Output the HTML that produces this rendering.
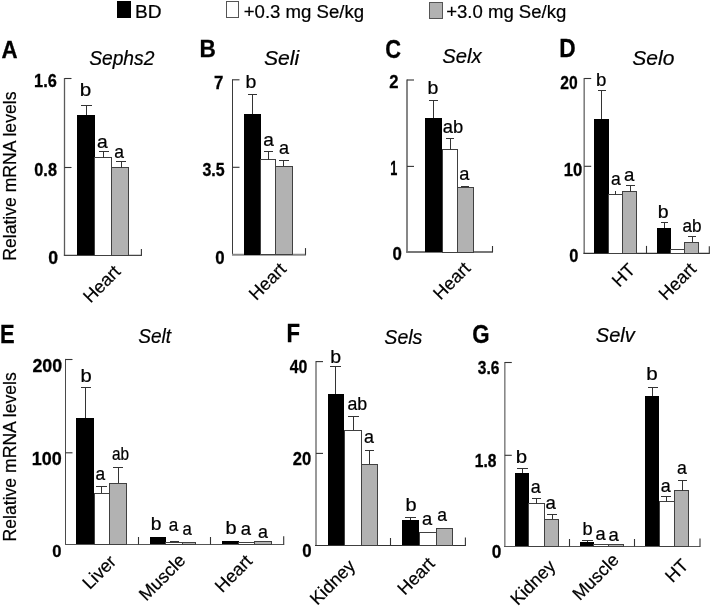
<!DOCTYPE html>
<html><head><meta charset="utf-8"><style>
html,body{margin:0;padding:0;background:#fff;}
svg{display:block;will-change:transform;}
rect,line,path{shape-rendering:crispEdges;}
text{font-family:"Liberation Sans", sans-serif;stroke:#000;stroke-width:0.22px;}
text[font-weight=bold]{stroke-width:0.3px;}
</style></head><body>
<svg width="711" height="608" viewBox="0 0 711 608">
<rect width="711" height="608" fill="#fff"/>
<rect x="117" y="1.3" width="13.8" height="16.4" fill="#000"/>
<text x="135.03" y="17.90" font-size="19.00" font-weight="normal" font-style="normal" textLength="26.59" lengthAdjust="spacingAndGlyphs">BD</text>
<rect x="226.4" y="1.7" width="12" height="15.7" fill="#fff" stroke="#555" stroke-width="1"/>
<text x="243.69" y="17.70" font-size="18.70" font-weight="normal" font-style="normal" textLength="120.41" lengthAdjust="spacingAndGlyphs">+0.3 mg Se/kg</text>
<rect x="429.7" y="2.6" width="12.5" height="15.6" fill="#b2b2b2" stroke="#555" stroke-width="1"/>
<text x="446.19" y="17.70" font-size="18.70" font-weight="normal" font-style="normal" textLength="120.10" lengthAdjust="spacingAndGlyphs">+3.0 mg Se/kg</text>
<text x="1.50" y="58.00" font-size="24.71" font-weight="bold" font-style="normal" textLength="16.09" lengthAdjust="spacingAndGlyphs" fill="#000">A</text>
<text x="89.16" y="65.30" font-size="20.00" font-weight="normal" font-style="italic" textLength="65.23" lengthAdjust="spacingAndGlyphs">Sephs2</text>
<line x1="64.5" y1="78.1" x2="64.5" y2="255.4" stroke="#5a5a5a" stroke-width="1.3" style="shape-rendering:auto"/>
<line x1="63.85" y1="255.4" x2="141.9" y2="255.4" stroke="#444" stroke-width="1.2" style="shape-rendering:auto"/>
<line x1="64.5" y1="78.5" x2="71.5" y2="78.5" stroke="#333" stroke-width="1.1" style="shape-rendering:auto"/>
<line x1="64.5" y1="167.5" x2="71.5" y2="167.5" stroke="#333" stroke-width="1.1" style="shape-rendering:auto"/>
<line x1="141.4" y1="255.4" x2="141.4" y2="248.9" stroke="#333" stroke-width="1.1" style="shape-rendering:auto"/>
<text x="34.07" y="86.72" font-size="18.36" font-weight="bold" font-style="normal" textLength="22.72" lengthAdjust="spacingAndGlyphs" fill="#000">1.6</text>
<text x="34.36" y="175.52" font-size="18.36" font-weight="bold" font-style="normal" textLength="22.54" lengthAdjust="spacingAndGlyphs" fill="#000">0.8</text>
<text x="48.20" y="263.51" font-size="19.21" font-weight="bold" font-style="normal" textLength="9.82" lengthAdjust="spacingAndGlyphs" fill="#000">0</text>
<rect x="77.3" y="115.4" width="17.60" height="139.60" fill="#000"/>
<rect x="94.90" y="157.50" width="16.90" height="97.50" fill="#fff" stroke="#404040" stroke-width="1"/>
<rect x="111.80" y="167.50" width="16.90" height="87.50" fill="#b2b2b2" stroke="#404040" stroke-width="1"/>
<path d="M86.35 115.4 V105.4 M81.1 105.4 H91.6" fill="none" stroke="#333" stroke-width="1"/>
<path d="M103.70 157.5 V151.4 M98.6 151.4 H108.8" fill="none" stroke="#333" stroke-width="1"/>
<path d="M121.00 167.5 V161.6 M116 161.6 H126" fill="none" stroke="#333" stroke-width="1"/>
<text x="79.77" y="96.30" font-size="18.20" font-weight="normal" font-style="normal" textLength="11.50" lengthAdjust="spacingAndGlyphs">b</text>
<text x="96.98" y="147.80" font-size="18.20" font-weight="normal" font-style="normal" textLength="10.72" lengthAdjust="spacingAndGlyphs">a</text>
<text x="114.26" y="158.00" font-size="18.20" font-weight="normal" font-style="normal" textLength="9.74" lengthAdjust="spacingAndGlyphs">a</text>
<text x="90.46" y="303.84" font-size="18.0" transform="rotate(-45 90.46 303.84)">Heart</text>
<text x="15.60" y="260.74" font-size="17.5" textLength="169.17" lengthAdjust="spacingAndGlyphs" transform="rotate(-90 15.60 260.74)">Relative mRNA levels</text>
<text x="199.59" y="57.20" font-size="24.27" font-weight="bold" font-style="normal" textLength="16.34" lengthAdjust="spacingAndGlyphs" fill="#000">B</text>
<text x="263.90" y="64.50" font-size="20.50" font-weight="normal" font-style="italic" textLength="35.32" lengthAdjust="spacingAndGlyphs">Seli</text>
<line x1="232.5" y1="79.3" x2="232.5" y2="254.8" stroke="#3a3a3a" stroke-width="1.0" style="shape-rendering:auto"/>
<line x1="232.0" y1="254.8" x2="306.0" y2="254.8" stroke="#888" stroke-width="2.0" style="shape-rendering:auto"/>
<line x1="232.5" y1="79.8" x2="239.5" y2="79.8" stroke="#333" stroke-width="1.1" style="shape-rendering:auto"/>
<line x1="232.5" y1="167.3" x2="239.5" y2="167.3" stroke="#333" stroke-width="1.1" style="shape-rendering:auto"/>
<line x1="305.5" y1="254.8" x2="305.5" y2="248.1" stroke="#333" stroke-width="1.1" style="shape-rendering:auto"/>
<text x="213.98" y="88.60" font-size="19.04" font-weight="bold" font-style="normal" textLength="9.36" lengthAdjust="spacingAndGlyphs" fill="#000">7</text>
<text x="202.43" y="176.09" font-size="18.89" font-weight="bold" font-style="normal" textLength="22.21" lengthAdjust="spacingAndGlyphs" fill="#000">3.5</text>
<text x="215.33" y="263.51" font-size="19.07" font-weight="bold" font-style="normal" textLength="9.36" lengthAdjust="spacingAndGlyphs" fill="#000">0</text>
<rect x="244" y="114.3" width="16.80" height="140.20" fill="#000"/>
<rect x="260.80" y="159.90" width="14.60" height="94.60" fill="#fff" stroke="#404040" stroke-width="1"/>
<rect x="275.40" y="166.00" width="17.10" height="88.50" fill="#b2b2b2" stroke="#404040" stroke-width="1"/>
<path d="M252.10 114.3 V94.3 M247.6 94.3 H256.6" fill="none" stroke="#333" stroke-width="1"/>
<path d="M268.70 159.9 V151.4 M264 151.4 H273.4" fill="none" stroke="#333" stroke-width="1"/>
<path d="M283.95 166 V160 M279.3 160 H288.6" fill="none" stroke="#333" stroke-width="1"/>
<text x="245.44" y="88.30" font-size="18.20" font-weight="normal" font-style="normal" textLength="10.88" lengthAdjust="spacingAndGlyphs">b</text>
<text x="263.19" y="146.00" font-size="18.20" font-weight="normal" font-style="normal" textLength="10.61" lengthAdjust="spacingAndGlyphs">a</text>
<text x="278.93" y="153.60" font-size="18.20" font-weight="normal" font-style="normal" textLength="10.07" lengthAdjust="spacingAndGlyphs">a</text>
<text x="256.16" y="301.24" font-size="18.0" transform="rotate(-45 256.16 301.24)">Heart</text>
<text x="385.30" y="57.96" font-size="25.00" font-weight="bold" font-style="normal" textLength="15.80" lengthAdjust="spacingAndGlyphs" fill="#000">C</text>
<text x="442.33" y="62.80" font-size="20.00" font-weight="normal" font-style="italic" textLength="39.28" lengthAdjust="spacingAndGlyphs">Selx</text>
<line x1="407.0" y1="79.5" x2="407.0" y2="252.0" stroke="#7a7a7a" stroke-width="1.8" style="shape-rendering:auto"/>
<line x1="406.1" y1="252.0" x2="493.0" y2="252.0" stroke="#777" stroke-width="2.0" style="shape-rendering:auto"/>
<line x1="407.0" y1="80" x2="414.0" y2="80" stroke="#333" stroke-width="1.1" style="shape-rendering:auto"/>
<line x1="407.0" y1="166.4" x2="414.0" y2="166.4" stroke="#333" stroke-width="1.1" style="shape-rendering:auto"/>
<line x1="492.5" y1="252.0" x2="492.5" y2="246" stroke="#333" stroke-width="1.1" style="shape-rendering:auto"/>
<text x="389.32" y="87.90" font-size="18.47" font-weight="bold" font-style="normal" textLength="9.24" lengthAdjust="spacingAndGlyphs" fill="#000">2</text>
<text x="390.20" y="174.80" font-size="19.33" font-weight="bold" font-style="normal" textLength="7.05" lengthAdjust="spacingAndGlyphs" fill="#000">1</text>
<text x="392.53" y="260.11" font-size="19.07" font-weight="bold" font-style="normal" textLength="9.36" lengthAdjust="spacingAndGlyphs" fill="#000">0</text>
<rect x="425.3" y="117.8" width="16.70" height="134.30" fill="#000"/>
<rect x="442.00" y="149.50" width="15.20" height="102.60" fill="#fff" stroke="#404040" stroke-width="1"/>
<rect x="457.20" y="187.30" width="16.30" height="64.80" fill="#b2b2b2" stroke="#404040" stroke-width="1"/>
<path d="M433.40 117.8 V100.3 M429 100.3 H437.8" fill="none" stroke="#333" stroke-width="1"/>
<path d="M450.00 149.5 V138.8 M446 138.8 H454" fill="none" stroke="#333" stroke-width="1"/>
<path d="M465.00 187.3 V186.5 M461 186.5 H469" fill="none" stroke="#333" stroke-width="1"/>
<text x="427.44" y="94.10" font-size="18.20" font-weight="normal" font-style="normal" textLength="10.88" lengthAdjust="spacingAndGlyphs">b</text>
<text x="442.82" y="133.10" font-size="18.20" font-weight="normal" font-style="normal" textLength="20.45" lengthAdjust="spacingAndGlyphs">ab</text>
<text x="459.22" y="179.80" font-size="18.20" font-weight="normal" font-style="normal" textLength="10.18" lengthAdjust="spacingAndGlyphs">a</text>
<text x="440.46" y="300.64" font-size="18.0" transform="rotate(-45 440.46 300.64)">Heart</text>
<text x="559.28" y="57.40" font-size="24.86" font-weight="bold" font-style="normal" textLength="16.37" lengthAdjust="spacingAndGlyphs" fill="#000">D</text>
<text x="632.30" y="64.70" font-size="20.00" font-weight="normal" font-style="italic" textLength="42.06" lengthAdjust="spacingAndGlyphs">Selo</text>
<line x1="584.2" y1="78.1" x2="584.2" y2="253.4" stroke="#808080" stroke-width="1.6" style="shape-rendering:auto"/>
<line x1="583.4000000000001" y1="253.4" x2="709.8" y2="253.4" stroke="#333" stroke-width="1.2" style="shape-rendering:auto"/>
<line x1="584.2" y1="78.5" x2="591.2" y2="78.5" stroke="#333" stroke-width="1.1" style="shape-rendering:auto"/>
<line x1="584.2" y1="166.3" x2="591.2" y2="166.3" stroke="#333" stroke-width="1.1" style="shape-rendering:auto"/>
<line x1="646.5" y1="253.4" x2="646.5" y2="245.9" stroke="#333" stroke-width="1.1" style="shape-rendering:auto"/>
<line x1="709.3" y1="253.4" x2="709.3" y2="246.2" stroke="#333" stroke-width="1.1" style="shape-rendering:auto"/>
<text x="560.36" y="88.61" font-size="19.07" font-weight="bold" font-style="normal" textLength="17.38" lengthAdjust="spacingAndGlyphs" fill="#000">20</text>
<text x="563.85" y="175.72" font-size="18.36" font-weight="bold" font-style="normal" textLength="18.53" lengthAdjust="spacingAndGlyphs" fill="#000">10</text>
<text x="569.15" y="261.52" font-size="18.79" font-weight="bold" font-style="normal" textLength="9.12" lengthAdjust="spacingAndGlyphs" fill="#000">0</text>
<rect x="594.2" y="119.3" width="14.50" height="133.80" fill="#000"/>
<rect x="608.70" y="194.50" width="13.80" height="58.60" fill="#fff" stroke="#404040" stroke-width="1"/>
<rect x="622.50" y="191.50" width="14.30" height="61.60" fill="#b2b2b2" stroke="#404040" stroke-width="1"/>
<rect x="657" y="228" width="13.80" height="25.10" fill="#000"/>
<rect x="670.80" y="249.30" width="13.50" height="3.80" fill="#fff" stroke="#404040" stroke-width="1"/>
<rect x="684.30" y="242.40" width="14.40" height="10.70" fill="#b2b2b2" stroke="#404040" stroke-width="1"/>
<path d="M601.90 119.3 V90 M597.6 90 H606.2" fill="none" stroke="#333" stroke-width="1"/>
<path d="M615.5 194.5 V191.2" fill="none" stroke="#333" stroke-width="1"/>
<path d="M630.25 191.5 V185.7 M626 185.7 H634.5" fill="none" stroke="#333" stroke-width="1"/>
<path d="M664.35 228 V222.6 M660.5 222.6 H668.2" fill="none" stroke="#333" stroke-width="1"/>
<path d="M692.35 242.4 V236.6 M688.3 236.6 H696.4" fill="none" stroke="#333" stroke-width="1"/>
<text x="596.10" y="85.50" font-size="18.20" font-weight="normal" font-style="normal" textLength="10.39" lengthAdjust="spacingAndGlyphs">b</text>
<text x="610.96" y="184.60" font-size="18.20" font-weight="normal" font-style="normal" textLength="9.74" lengthAdjust="spacingAndGlyphs">a</text>
<text x="624.11" y="180.70" font-size="18.20" font-weight="normal" font-style="normal" textLength="10.39" lengthAdjust="spacingAndGlyphs">a</text>
<text x="657.74" y="217.50" font-size="18.20" font-weight="normal" font-style="normal" textLength="10.88" lengthAdjust="spacingAndGlyphs">b</text>
<text x="682.47" y="232.00" font-size="18.20" font-weight="normal" font-style="normal" textLength="19.05" lengthAdjust="spacingAndGlyphs">ab</text>
<text x="619.26" y="288.04" font-size="18.0" transform="rotate(-45 619.26 288.04)">HT</text>
<text x="666.06" y="301.34" font-size="18.0" transform="rotate(-45 666.06 301.34)">Heart</text>
<text x="0.03" y="343.10" font-size="25.00" font-weight="bold" font-style="normal" textLength="14.62" lengthAdjust="spacingAndGlyphs" fill="#000">E</text>
<text x="138.26" y="342.50" font-size="20.00" font-weight="normal" font-style="italic" textLength="32.88" lengthAdjust="spacingAndGlyphs">Selt</text>
<line x1="65.5" y1="358.9" x2="65.5" y2="544.5" stroke="#4a4a4a" stroke-width="1.0" style="shape-rendering:auto"/>
<line x1="65.0" y1="544.5" x2="284.2" y2="544.5" stroke="#555" stroke-width="1.2" style="shape-rendering:auto"/>
<line x1="65.5" y1="359.5" x2="72.5" y2="359.5" stroke="#333" stroke-width="1.1" style="shape-rendering:auto"/>
<line x1="65.5" y1="452.8" x2="72.5" y2="452.8" stroke="#333" stroke-width="1.1" style="shape-rendering:auto"/>
<line x1="138.5" y1="544.5" x2="138.5" y2="537.0" stroke="#333" stroke-width="1.1" style="shape-rendering:auto"/>
<line x1="210.5" y1="544.5" x2="210.5" y2="537.0" stroke="#333" stroke-width="1.1" style="shape-rendering:auto"/>
<line x1="283.7" y1="544.5" x2="283.7" y2="536.2" stroke="#333" stroke-width="1.1" style="shape-rendering:auto"/>
<text x="32.38" y="371.72" font-size="18.64" font-weight="bold" font-style="normal" textLength="29.64" lengthAdjust="spacingAndGlyphs" fill="#000">200</text>
<text x="31.87" y="465.21" font-size="19.07" font-weight="bold" font-style="normal" textLength="29.97" lengthAdjust="spacingAndGlyphs" fill="#000">100</text>
<text x="52.24" y="556.83" font-size="17.09" font-weight="bold" font-style="normal" textLength="9.24" lengthAdjust="spacingAndGlyphs" fill="#000">0</text>
<rect x="76.4" y="417.5" width="17.60" height="126.80" fill="#000"/>
<rect x="94.00" y="493.40" width="15.20" height="50.90" fill="#fff" stroke="#404040" stroke-width="1"/>
<rect x="109.20" y="483.00" width="16.80" height="61.30" fill="#b2b2b2" stroke="#404040" stroke-width="1"/>
<path d="M85.65 417.5 V387.6 M80.5 387.6 H90.8" fill="none" stroke="#333" stroke-width="1"/>
<path d="M101.40 493.4 V486.3 M96.3 486.3 H106.5" fill="none" stroke="#333" stroke-width="1"/>
<path d="M118.10 483 V467 M113.3 467 H122.9" fill="none" stroke="#333" stroke-width="1"/>
<text x="80.60" y="381.50" font-size="18.20" font-weight="normal" font-style="normal" textLength="11.25" lengthAdjust="spacingAndGlyphs">b</text>
<text x="95.46" y="479.70" font-size="18.20" font-weight="normal" font-style="normal" textLength="9.64" lengthAdjust="spacingAndGlyphs">a</text>
<text x="111.95" y="459.70" font-size="18.20" font-weight="normal" font-style="normal" textLength="17.10" lengthAdjust="spacingAndGlyphs">ab</text>
<rect x="150" y="537.3" width="15.60" height="7.00" fill="#000"/>
<rect x="165.60" y="542.20" width="16.60" height="2.10" fill="#fff" stroke="#404040" stroke-width="1"/>
<rect x="182.20" y="542.60" width="13.00" height="1.70" fill="#b2b2b2" stroke="#404040" stroke-width="1"/>
<path d="M174.65 542.2 V541.3 M169.9 541.3 H179.4" fill="none" stroke="#333" stroke-width="1"/>
<text x="150.65" y="529.60" font-size="18.20" font-weight="normal" font-style="normal" textLength="10.76" lengthAdjust="spacingAndGlyphs">b</text>
<text x="168.77" y="531.40" font-size="18.20" font-weight="normal" font-style="normal" textLength="9.53" lengthAdjust="spacingAndGlyphs">a</text>
<text x="182.49" y="534.50" font-size="18.20" font-weight="normal" font-style="normal" textLength="9.31" lengthAdjust="spacingAndGlyphs">a</text>
<rect x="221.9" y="540.9" width="16.80" height="3.40" fill="#000"/>
<rect x="238.70" y="542.20" width="15.80" height="2.10" fill="#fff" stroke="#404040" stroke-width="1"/>
<rect x="254.50" y="541.80" width="17.10" height="2.50" fill="#b2b2b2" stroke="#404040" stroke-width="1"/>
<text x="225.61" y="534.10" font-size="18.20" font-weight="normal" font-style="normal" textLength="11.13" lengthAdjust="spacingAndGlyphs">b</text>
<text x="240.81" y="535.30" font-size="18.20" font-weight="normal" font-style="normal" textLength="10.29" lengthAdjust="spacingAndGlyphs">a</text>
<text x="258.04" y="537.60" font-size="18.20" font-weight="normal" font-style="normal" textLength="9.96" lengthAdjust="spacingAndGlyphs">a</text>
<text x="89.76" y="590.24" font-size="18.0" transform="rotate(-45 89.76 590.24)">Liver</text>
<text x="146.26" y="601.84" font-size="18.0" transform="rotate(-45 146.26 601.84)">Muscle</text>
<text x="222.26" y="593.44" font-size="18.0" transform="rotate(-45 222.26 593.44)">Heart</text>
<text x="16.50" y="541.44" font-size="17.5" textLength="169.17" lengthAdjust="spacingAndGlyphs" transform="rotate(-90 16.50 541.44)">Relative mRNA levels</text>
<text x="286.42" y="342.00" font-size="24.86" font-weight="bold" font-style="normal" textLength="13.49" lengthAdjust="spacingAndGlyphs" fill="#000">F</text>
<text x="384.35" y="343.70" font-size="20.00" font-weight="normal" font-style="italic" textLength="38.06" lengthAdjust="spacingAndGlyphs">Sels</text>
<line x1="316.0" y1="361.1" x2="316.0" y2="545.5" stroke="#999" stroke-width="2.0" style="shape-rendering:auto"/>
<line x1="315.0" y1="545.5" x2="465.9" y2="545.5" stroke="#333" stroke-width="1.2" style="shape-rendering:auto"/>
<line x1="316.0" y1="361.6" x2="323.0" y2="361.6" stroke="#333" stroke-width="1.1" style="shape-rendering:auto"/>
<line x1="316.0" y1="453.4" x2="323.0" y2="453.4" stroke="#333" stroke-width="1.1" style="shape-rendering:auto"/>
<line x1="390.5" y1="545.5" x2="390.5" y2="538.0" stroke="#333" stroke-width="1.1" style="shape-rendering:auto"/>
<line x1="465.4" y1="545.5" x2="465.4" y2="537.6" stroke="#333" stroke-width="1.1" style="shape-rendering:auto"/>
<text x="289.76" y="372.61" font-size="19.07" font-weight="bold" font-style="normal" textLength="17.59" lengthAdjust="spacingAndGlyphs" fill="#000">40</text>
<text x="292.82" y="464.52" font-size="18.79" font-weight="bold" font-style="normal" textLength="18.46" lengthAdjust="spacingAndGlyphs" fill="#000">20</text>
<text x="302.13" y="556.51" font-size="19.07" font-weight="bold" font-style="normal" textLength="9.36" lengthAdjust="spacingAndGlyphs" fill="#000">0</text>
<rect x="327.5" y="394.4" width="16.50" height="150.80" fill="#000"/>
<rect x="344.00" y="430.30" width="17.50" height="114.90" fill="#fff" stroke="#404040" stroke-width="1"/>
<rect x="361.50" y="464.40" width="16.10" height="80.80" fill="#b2b2b2" stroke="#404040" stroke-width="1"/>
<path d="M335.65 394.4 V366.3 M330.3 366.3 H341" fill="none" stroke="#333" stroke-width="1"/>
<path d="M353.35 430.3 V416.3 M348.2 416.3 H358.5" fill="none" stroke="#333" stroke-width="1"/>
<path d="M369.45 464.4 V450.3 M364.5 450.3 H374.4" fill="none" stroke="#333" stroke-width="1"/>
<text x="330.34" y="362.50" font-size="18.20" font-weight="normal" font-style="normal" textLength="10.88" lengthAdjust="spacingAndGlyphs">b</text>
<text x="347.44" y="410.20" font-size="18.20" font-weight="normal" font-style="normal" textLength="19.80" lengthAdjust="spacingAndGlyphs">ab</text>
<text x="364.04" y="442.90" font-size="18.20" font-weight="normal" font-style="normal" textLength="9.96" lengthAdjust="spacingAndGlyphs">a</text>
<rect x="402.4" y="520.3" width="16.60" height="24.90" fill="#000"/>
<rect x="419.00" y="532.80" width="17.10" height="12.40" fill="#fff" stroke="#404040" stroke-width="1"/>
<rect x="436.10" y="528.30" width="16.30" height="16.90" fill="#b2b2b2" stroke="#404040" stroke-width="1"/>
<path d="M410.55 520.3 V517.4 M405.2 517.4 H415.9" fill="none" stroke="#333" stroke-width="1"/>
<text x="405.61" y="511.20" font-size="18.20" font-weight="normal" font-style="normal" textLength="11.13" lengthAdjust="spacingAndGlyphs">b</text>
<text x="422.02" y="524.50" font-size="18.20" font-weight="normal" font-style="normal" textLength="10.18" lengthAdjust="spacingAndGlyphs">a</text>
<text x="437.36" y="521.40" font-size="18.20" font-weight="normal" font-style="normal" textLength="9.74" lengthAdjust="spacingAndGlyphs">a</text>
<text x="317.36" y="605.94" font-size="18.0" transform="rotate(-45 317.36 605.94)">Kidney</text>
<text x="404.76" y="595.94" font-size="18.0" transform="rotate(-45 404.76 595.94)">Heart</text>
<text x="472.29" y="342.95" font-size="25.14" font-weight="bold" font-style="normal" textLength="17.29" lengthAdjust="spacingAndGlyphs" fill="#000">G</text>
<text x="595.83" y="341.50" font-size="20.00" font-weight="normal" font-style="italic" textLength="39.01" lengthAdjust="spacingAndGlyphs">Selv</text>
<line x1="504.8" y1="361.9" x2="504.8" y2="546.5" stroke="#888" stroke-width="1.6" style="shape-rendering:auto"/>
<line x1="504.0" y1="546.5" x2="700.5" y2="546.5" stroke="#555" stroke-width="1.2" style="shape-rendering:auto"/>
<line x1="504.8" y1="362.5" x2="511.8" y2="362.5" stroke="#333" stroke-width="1.1" style="shape-rendering:auto"/>
<line x1="504.8" y1="455.3" x2="511.8" y2="455.3" stroke="#333" stroke-width="1.1" style="shape-rendering:auto"/>
<line x1="569.5" y1="546.5" x2="569.5" y2="539.0" stroke="#333" stroke-width="1.1" style="shape-rendering:auto"/>
<line x1="634.5" y1="546.5" x2="634.5" y2="539.0" stroke="#333" stroke-width="1.1" style="shape-rendering:auto"/>
<line x1="700" y1="546.5" x2="700" y2="538.6" stroke="#333" stroke-width="1.1" style="shape-rendering:auto"/>
<text x="477.74" y="373.69" font-size="18.89" font-weight="bold" font-style="normal" textLength="21.62" lengthAdjust="spacingAndGlyphs" fill="#000">3.6</text>
<text x="474.82" y="466.52" font-size="18.22" font-weight="bold" font-style="normal" textLength="21.66" lengthAdjust="spacingAndGlyphs" fill="#000">1.8</text>
<text x="491.72" y="557.92" font-size="18.64" font-weight="bold" font-style="normal" textLength="9.59" lengthAdjust="spacingAndGlyphs" fill="#000">0</text>
<rect x="514.8" y="473.3" width="14.00" height="72.90" fill="#000"/>
<rect x="528.80" y="503.60" width="15.50" height="42.60" fill="#fff" stroke="#404040" stroke-width="1"/>
<rect x="544.30" y="519.40" width="14.10" height="26.80" fill="#b2b2b2" stroke="#404040" stroke-width="1"/>
<path d="M522.50 473.3 V468.1 M517.3 468.1 H527.7" fill="none" stroke="#333" stroke-width="1"/>
<path d="M536.25 503.6 V498.4 M531.5 498.4 H541" fill="none" stroke="#333" stroke-width="1"/>
<path d="M552.25 519.4 V514.2 M547.1 514.2 H557.4" fill="none" stroke="#333" stroke-width="1"/>
<text x="515.68" y="462.80" font-size="18.20" font-weight="normal" font-style="normal" textLength="11.38" lengthAdjust="spacingAndGlyphs">b</text>
<text x="530.74" y="492.80" font-size="18.20" font-weight="normal" font-style="normal" textLength="9.96" lengthAdjust="spacingAndGlyphs">a</text>
<text x="545.61" y="508.80" font-size="18.20" font-weight="normal" font-style="normal" textLength="10.39" lengthAdjust="spacingAndGlyphs">a</text>
<rect x="579.9" y="541.8" width="13.90" height="4.40" fill="#000"/>
<rect x="593.80" y="544.60" width="15.00" height="1.60" fill="#fff" stroke="#404040" stroke-width="1"/>
<rect x="608.80" y="544.60" width="15.00" height="1.60" fill="#b2b2b2" stroke="#404040" stroke-width="1"/>
<path d="M587.45 541.8 V540.2 M582.4 540.2 H592.5" fill="none" stroke="#333" stroke-width="1"/>
<text x="582.52" y="535.00" font-size="18.20" font-weight="normal" font-style="normal" textLength="10.14" lengthAdjust="spacingAndGlyphs">b</text>
<text x="595.62" y="540.00" font-size="18.20" font-weight="normal" font-style="normal" textLength="10.18" lengthAdjust="spacingAndGlyphs">a</text>
<text x="608.61" y="541.00" font-size="18.20" font-weight="normal" font-style="normal" textLength="10.29" lengthAdjust="spacingAndGlyphs">a</text>
<rect x="644.8" y="396" width="14.30" height="150.20" fill="#000"/>
<rect x="659.10" y="501.70" width="15.00" height="44.50" fill="#fff" stroke="#404040" stroke-width="1"/>
<rect x="674.10" y="490.50" width="14.30" height="55.70" fill="#b2b2b2" stroke="#404040" stroke-width="1"/>
<path d="M652.55 396 V387.8 M647.6 387.8 H657.5" fill="none" stroke="#333" stroke-width="1"/>
<path d="M666.25 501.7 V496.5 M661.3 496.5 H671.2" fill="none" stroke="#333" stroke-width="1"/>
<path d="M682.50 490.5 V480.9 M677.7 480.9 H687.3" fill="none" stroke="#333" stroke-width="1"/>
<text x="646.27" y="379.80" font-size="18.20" font-weight="normal" font-style="normal" textLength="11.50" lengthAdjust="spacingAndGlyphs">b</text>
<text x="660.84" y="492.10" font-size="18.20" font-weight="normal" font-style="normal" textLength="9.96" lengthAdjust="spacingAndGlyphs">a</text>
<text x="676.95" y="474.00" font-size="18.20" font-weight="normal" font-style="normal" textLength="9.85" lengthAdjust="spacingAndGlyphs">a</text>
<text x="517.66" y="606.34" font-size="18.0" transform="rotate(-45 517.66 606.34)">Kidney</text>
<text x="579.76" y="601.34" font-size="18.0" transform="rotate(-45 579.76 601.34)">Muscle</text>
<text x="672.46" y="583.54" font-size="18.0" transform="rotate(-45 672.46 583.54)">HT</text>
</svg>
</body></html>
